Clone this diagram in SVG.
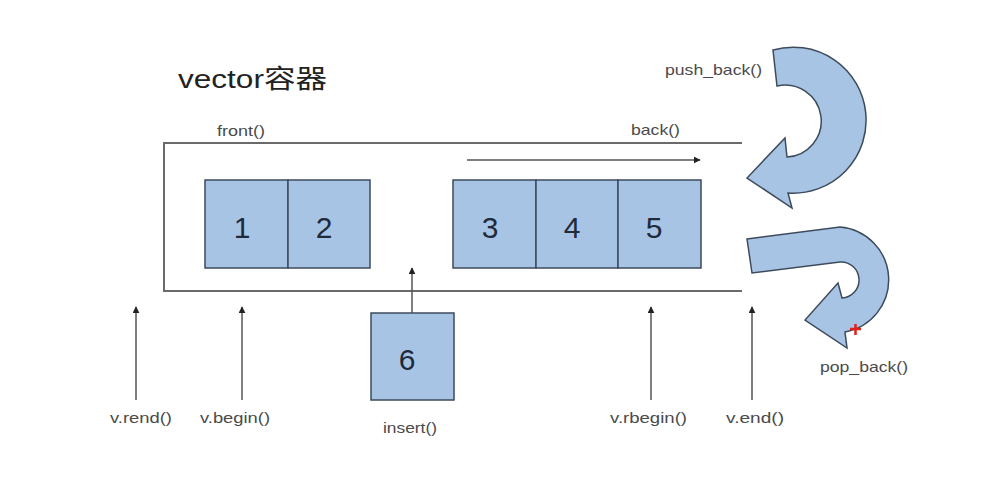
<svg xmlns="http://www.w3.org/2000/svg" width="982" height="480" viewBox="0 0 982 480">
<defs>
<style>
.lbl{font-family:"Liberation Sans",Arial,sans-serif;font-size:15px;fill:#4a4a4a}
.num{font-family:"Liberation Sans",Arial,sans-serif;font-size:30px;fill:#1f2a3a;text-anchor:middle}
.box{fill:#a7c4e4;stroke:#3e4b5c;stroke-width:1.5}
.line{stroke:#6a6a6a;stroke-width:2;fill:none}
.arr{stroke:#555;stroke-width:1.5;fill:none;marker-end:url(#ah)}
.curve{fill:#a7c4e4;stroke:#3e4b5c;stroke-width:1.5;stroke-linejoin:miter}
</style>
<marker id="ah" viewBox="0 0 10 10" refX="9" refY="5" markerWidth="7" markerHeight="7" markerUnits="userSpaceOnUse" orient="auto">
<path d="M0,0 L10,5 L0,10 Z" fill="#222"/>
</marker>
</defs>
<rect width="982" height="480" fill="#ffffff"/>
<text x="178" y="88" font-family="'Liberation Sans','Noto Sans CJK SC',sans-serif" font-size="26" fill="#222" textLength="149" lengthAdjust="spacingAndGlyphs">vector容器</text>
<g id="container">
<path class="line" d="M742,143 H164 V291 H742"/>
</g>
<g id="box1"><rect class="box" x="205" y="180" width="83" height="88"/><text class="num" x="242" y="238">1</text></g>
<g id="box2"><rect class="box" x="288" y="180" width="82" height="88"/><text class="num" x="324" y="238">2</text></g>
<g id="box3"><rect class="box" x="453" y="180" width="83" height="88"/><text class="num" x="490" y="238">3</text></g>
<g id="box4"><rect class="box" x="536" y="180" width="82" height="88"/><text class="num" x="572" y="238">4</text></g>
<g id="box5"><rect class="box" x="618" y="180" width="83" height="88"/><text class="num" x="654" y="238">5</text></g>
<g id="box6"><rect class="box" x="371" y="313" width="83" height="87"/><text class="num" x="407" y="370">6</text></g>
<g id="push_back_arrow">
<path class="curve" d="M773,50 A73,73 0 1 1 788,193 L792,208 L747,178 L785,138 L787,157 A36,36 0 1 0 777,86 Z"/>
</g>
<g id="pop_back_arrow">
<path class="curve" d="M747,239 L840,227 A53,53 0 0 1 845,332 L847,348 L805,320 L838,283 L842,298 A18,18 0 0 0 840,262 L752,273 Z"/>
<path d="M850,329 H861 M855.5,324 V335" stroke="#e0201a" stroke-width="2.5"/>
</g>
<g id="connectors">
<line class="arr" x1="467" y1="160" x2="700" y2="160"/>
<line class="arr" x1="412" y1="313" x2="412" y2="268"/>
<line class="arr" x1="136" y1="400" x2="136" y2="307"/>
<line class="arr" x1="242" y1="400" x2="242" y2="307"/>
<line class="arr" x1="651" y1="400" x2="651" y2="307"/>
<line class="arr" x1="752" y1="400" x2="752" y2="307"/>
</g>
<g id="labels">
<text class="lbl" x="217" y="136" textLength="48" lengthAdjust="spacingAndGlyphs">front()</text>
<text class="lbl" x="631" y="135" textLength="49" lengthAdjust="spacingAndGlyphs">back()</text>
<text class="lbl" x="665" y="75" textLength="97" lengthAdjust="spacingAndGlyphs">push_back()</text>
<text class="lbl" x="820" y="372" textLength="88" lengthAdjust="spacingAndGlyphs">pop_back()</text>
<text class="lbl" x="110" y="423" textLength="62" lengthAdjust="spacingAndGlyphs">v.rend()</text>
<text class="lbl" x="200" y="423" textLength="70" lengthAdjust="spacingAndGlyphs">v.begin()</text>
<text class="lbl" x="383" y="433" textLength="54" lengthAdjust="spacingAndGlyphs">insert()</text>
<text class="lbl" x="610" y="423" textLength="77" lengthAdjust="spacingAndGlyphs">v.rbegin()</text>
<text class="lbl" x="726" y="423" textLength="58" lengthAdjust="spacingAndGlyphs">v.end()</text>
</g>
</svg>
